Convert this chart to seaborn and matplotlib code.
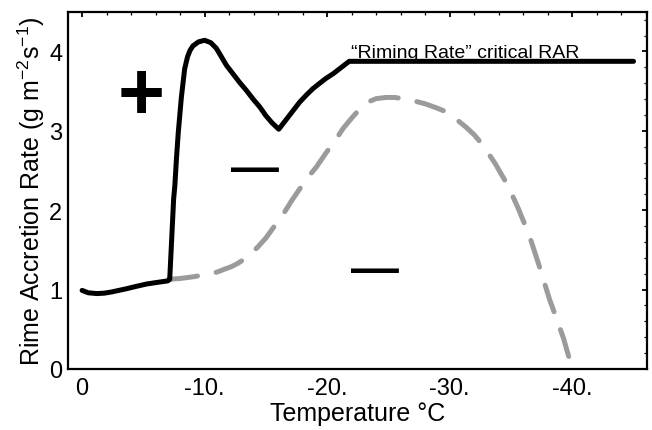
import matplotlib
matplotlib.use("Agg")
import matplotlib.pyplot as plt
import seaborn as sns
import pandas as pd
from matplotlib.ticker import MultipleLocator, FixedLocator, FixedFormatter

# ---- data ----
solid_T = [0, -0.5, -1.2, -1.8, -2.4, -3.0, -3.6, -4.4, -5.25, -6.1, -7.0, -7.15, -7.3, -7.47,
           -7.57, -7.7, -7.85, -8.1, -8.37, -8.6, -8.8, -9.05, -9.5, -10.0, -10.5, -10.95,
           -11.3, -11.8, -12.3, -12.85, -13.4, -13.95, -14.5, -15.0, -15.5, -16.05, -16.9,
           -17.75, -18.3, -18.83, -19.4, -19.9, -20.5, -21.0, -21.8, -45.0]
solid_R = [0.99, 0.96, 0.95, 0.955, 0.97, 0.99, 1.01, 1.04, 1.07, 1.09, 1.11, 1.13, 1.6, 2.14,
           2.31, 2.65, 2.98, 3.42, 3.78, 3.93, 4.01, 4.07, 4.12, 4.14, 4.11, 4.04,
           3.95, 3.82, 3.72, 3.61, 3.51, 3.40, 3.30, 3.19, 3.10, 3.02, 3.19,
           3.36, 3.45, 3.53, 3.60, 3.66, 3.72, 3.78, 3.875, 3.875]

dash_T = [-7.15, -8.0, -9.0, -10.15, -11.0, -11.5, -12.2, -12.7, -13.2, -13.7, -14.3, -15.0,
          -15.7, -16.5, -17.1, -17.77, -18.4, -19.1, -19.9, -20.75, -21.3, -22.0, -22.8,
          -23.45, -24.0, -24.8, -25.5, -26.2, -27.0, -28.0, -28.9, -29.7, -30.5, -31.3,
          -32.0, -32.7, -33.7, -34.75, -35.6, -36.5, -37.3, -38.14, -38.8, -39.3, -40.0]
dash_R = [1.13, 1.14, 1.16, 1.19, 1.22, 1.25, 1.29, 1.33, 1.38, 1.45, 1.53, 1.65,
          1.80, 1.97, 2.12, 2.27, 2.41, 2.54, 2.72, 2.90, 3.03, 3.16, 3.30,
          3.37, 3.405, 3.42, 3.42, 3.405, 3.38, 3.34, 3.29, 3.24, 3.15, 3.05,
          2.95, 2.82, 2.59, 2.31, 2.02, 1.68, 1.30, 0.88, 0.60, 0.38, 0.0]

x_ticks = [0, -10, -20, -30, -40]
x_tick_labels = ["0", "-10.", "-20.", "-30.", "-40."]
y_ticks = [0, 1, 2, 3, 4]
y_tick_labels = ["0", "1", "2", "3", "4"]

solid_df = pd.DataFrame({"T": solid_T, "R": solid_R})
dash_df = pd.DataFrame({"T": dash_T, "R": dash_R})

sns.set_style("white")
plt.rcParams["font.family"] = ["Liberation Sans", "DejaVu Sans"]
plt.rcParams["mathtext.fontset"] = "custom"
plt.rcParams["mathtext.rm"] = "Liberation Sans"
plt.rcParams["mathtext.it"] = "Liberation Sans"
plt.rcParams["mathtext.default"] = "regular"
plt.rcParams["text.color"] = "black"
plt.rcParams["axes.labelcolor"] = "black"

fig = plt.figure(figsize=(6.52, 4.31), dpi=100)
ax = fig.add_axes([68 / 652, 1 - 370 / 431, (647 - 68) / 652, (370 - 12.7) / 431])

sns.lineplot(data=dash_df, x="T", y="R", ax=ax, sort=False, estimator=None,
             color="#9b9b9b", linewidth=3.6)
ax.lines[-1].set_linestyle((0, (5.6, 3.8)))
ax.lines[-1].set_dash_capstyle("round")
ax.lines[-1].set_dash_joinstyle("round")
sns.lineplot(data=solid_df, x="T", y="R", ax=ax, sort=False, estimator=None,
             color="black", linewidth=3.6)
ax.lines[-1].set_solid_capstyle("round")
ax.lines[-1].set_solid_joinstyle("round")

ax.set_xlim(1.15, -46.1)
ax.set_ylim(0, 4.5)

ax.xaxis.set_major_locator(FixedLocator(x_ticks))
ax.xaxis.set_major_formatter(FixedFormatter(x_tick_labels))
ax.xaxis.set_minor_locator(MultipleLocator(2))
ax.yaxis.set_major_locator(FixedLocator(y_ticks))
ax.yaxis.set_major_formatter(FixedFormatter(y_tick_labels))
ax.yaxis.set_minor_locator(MultipleLocator(0.2))

ax.tick_params(which="both", direction="in", top=True, right=True, color="black",
               labelsize=17, labelcolor="black")
ax.tick_params(which="major", length=3.5, width=1.3)
ax.tick_params(which="minor", length=2.0, width=0.9)
ax.tick_params(axis="x", pad=6)
ax.tick_params(axis="y", pad=4)

for sp in ax.spines.values():
    sp.set_visible(True)
    sp.set_color("black")
    sp.set_linewidth(1.6)

ax.set_xlabel("Temperature °C", fontsize=18, labelpad=1, color="black")
ax.set_ylabel("Rime Accretion Rate (g m$^{-2}$s$^{-1}$)", fontsize=18, labelpad=2, color="black")

ax.text(-21.96, 3.93, "\u201cRiming Rate\u201d critical RAR", fontsize=14,
        ha="left", va="baseline", color="black")
ax.text(-4.84, 3.53, "+", fontsize=58, fontweight="bold", ha="center",
        va="center_baseline", color="black")
ax.text(-14.14, 2.57, "\u2014", fontsize=34.5, fontweight="bold", ha="center",
        va="center_baseline", color="black")
ax.text(-23.9, 1.30, "\u2014", fontsize=34.5, fontweight="bold", ha="center",
        va="center_baseline", color="black")

fig.savefig("out.png", dpi=100)
